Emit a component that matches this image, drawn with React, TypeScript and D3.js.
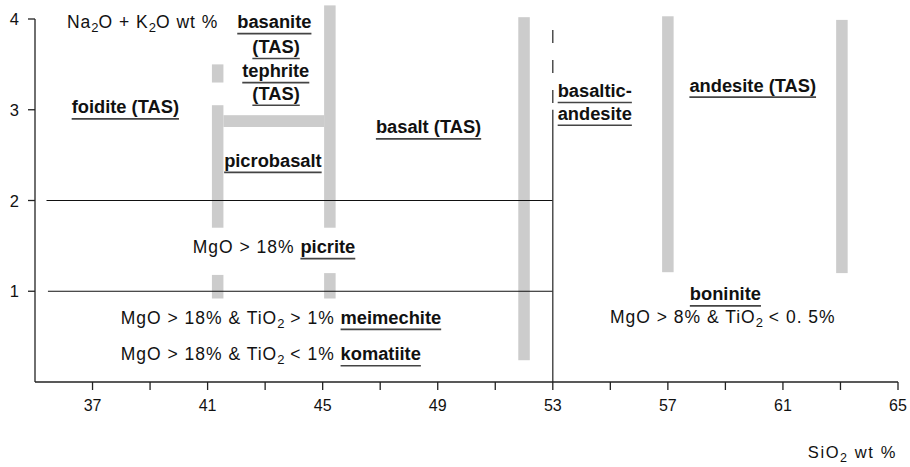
import React, { useEffect, useRef } from "react";
import * as d3 from "d3";

const W = 910;
const H = 467;

// axis domains (SiO2 wt %, Na2O + K2O wt %)
const xDomain: [number, number] = [35, 65];
const yDomain: [number, number] = [0, 4];
const xMinorTicks = [37, 39, 41, 43, 45, 47, 49, 51, 53, 55, 57, 59, 61, 63, 65];
const xTickLabels = [37, 41, 45, 49, 53, 57, 61, 65];
const yTicks = [1, 2, 3, 4];

// grey transition bands between TAS fields (SiO2 range, alkali range)
const bandSiO2From = [41.15, 41.15, 41.15, 45.05, 45.05, 41.55, 51.8, 56.8, 62.85];
const bandSiO2To = [41.55, 41.55, 41.55, 45.45, 45.45, 45.05, 52.2, 57.2, 63.25];
const bandAlkFrom = [3.3, 1.7, 0.92, 1.7, 0.92, 2.81, 0.24, 1.21, 1.2];
const bandAlkTo = [3.5, 3.05, 1.18, 4.15, 1.2, 2.94, 4.02, 4.03, 3.99];

// black boundary lines
const hLineAlk = [2, 1];
const hLineFrom = [35.4, 35.45];
const hLineTo = [53, 53];
const vLineSiO2 = 53;
const vLineSolidTop = 3.0;
const vLineDashTop = 3.88;

type Part = [string, string]; // [text, style] style: r | b | bu | sub
type Label = { x: number; y: number; anchor: string; parts: Part[] };

const labels: Label[] = [
  { x: 36.11, y: 3.9, anchor: "start", parts: [["Na", "r"], ["2", "sub"], ["O + K", "r"], ["2", "sub"], ["O wt %", "r"]] },
  { x: 43.32, y: 3.9, anchor: "middle", parts: [["basanite", "bu"]] },
  { x: 43.38, y: 3.625, anchor: "middle", parts: [["(TAS)", "bu"]] },
  { x: 43.37, y: 3.36, anchor: "middle", parts: [["tephrite", "bu"]] },
  { x: 43.38, y: 3.11, anchor: "middle", parts: [["(TAS)", "bu"]] },
  { x: 38.14, y: 2.96, anchor: "middle", parts: [["foidite (TAS)", "bu"]] },
  { x: 48.68, y: 2.74, anchor: "middle", parts: [["basalt (TAS)", "bu"]] },
  { x: 43.27, y: 2.37, anchor: "middle", parts: [["picrobasalt", "bu"]] },
  { x: 53.17, y: 3.14, anchor: "start", parts: [["basaltic-", "bu"]] },
  { x: 53.17, y: 2.89, anchor: "start", parts: [["andesite", "bu"]] },
  { x: 59.95, y: 3.2, anchor: "middle", parts: [["andesite (TAS)", "bu"]] },
  { x: 40.48, y: 1.42, anchor: "start", parts: [["MgO > 18% ", "r"], ["picrite", "bu"]] },
  { x: 37.98, y: 0.64, anchor: "start", parts: [["MgO > 18% & TiO", "r"], ["2", "sub"], [" > 1% ", "r"], ["meimechite", "bu"]] },
  { x: 37.98, y: 0.24, anchor: "start", parts: [["MgO > 18% & TiO", "r"], ["2", "sub"], [" < 1% ", "r"], ["komatiite", "bu"]] },
  { x: 59.0, y: 0.9, anchor: "middle", parts: [["boninite", "bu"]] },
  { x: 58.91, y: 0.65, anchor: "middle", parts: [["MgO > 8% & TiO", "r"], ["2", "sub"], [" < 0. 5%", "r"]] },
];

const FONT = "'Liberation Sans', Arial, Helvetica, sans-serif";

export default function App() {
  const ref = useRef<SVGSVGElement>(null);

  useEffect(() => {
    const svg = d3.select(ref.current);
    svg.selectAll("*").remove();

    const x = d3.scaleLinear().domain(xDomain).range([35, 898]);
    const y = d3.scaleLinear().domain(yDomain).range([382, 19]);

    // grey bands
    const bands = bandSiO2From.map((v, i) => ({
      x0: v, x1: bandSiO2To[i], y0: bandAlkFrom[i], y1: bandAlkTo[i],
    }));
    svg.append("g").selectAll("rect").data(bands).join("rect")
      .attr("x", d => x(d.x0))
      .attr("width", d => x(d.x1) - x(d.x0))
      .attr("y", d => y(d.y1))
      .attr("height", d => y(d.y0) - y(d.y1))
      .attr("fill", "#cccccc");

    // horizontal boundaries
    svg.append("g").selectAll("line").data(hLineAlk).join("line")
      .attr("x1", (d, i) => x(hLineFrom[i]))
      .attr("x2", (d, i) => x(hLineTo[i]))
      .attr("y1", d => y(d)).attr("y2", d => y(d))
      .attr("stroke", "#111").attr("stroke-width", 1);

    // vertical boundary at 53
    svg.append("line")
      .attr("x1", x(vLineSiO2)).attr("x2", x(vLineSiO2))
      .attr("y1", y(0)).attr("y2", y(vLineSolidTop))
      .attr("stroke", "#333").attr("stroke-width", 1.3);
    svg.append("line")
      .attr("x1", x(vLineSiO2)).attr("x2", x(vLineSiO2))
      .attr("y1", y(vLineDashTop)).attr("y2", y(vLineSolidTop))
      .attr("stroke", "#333").attr("stroke-width", 1.3)
      .attr("stroke-dasharray", "13 17");

    // axes
    const xAxis = svg.append("g");
    xAxis.append("line").attr("x1", x(35)).attr("x2", x(65)).attr("y1", y(0)).attr("y2", y(0))
      .attr("stroke", "#222").attr("stroke-width", 1.3);
    xAxis.selectAll("line.t").data(xMinorTicks).join("line").attr("class", "t")
      .attr("x1", d => x(d)).attr("x2", d => x(d))
      .attr("y1", y(0)).attr("y2", y(0) + 8)
      .attr("stroke", "#222").attr("stroke-width", 1.3);
    xAxis.selectAll("text").data(xTickLabels).join("text")
      .attr("x", d => x(d)).attr("y", 411)
      .attr("text-anchor", "middle")
      .attr("font-family", FONT).attr("font-size", 16).attr("fill", "#111")
      .text(d => d);

    const yAxis = svg.append("g");
    yAxis.append("line").attr("x1", x(35)).attr("x2", x(35)).attr("y1", y(4)).attr("y2", y(0))
      .attr("stroke", "#222").attr("stroke-width", 1.3);
    yAxis.selectAll("line.t").data(yTicks).join("line").attr("class", "t")
      .attr("x1", x(35) - 7).attr("x2", x(35))
      .attr("y1", d => y(d)).attr("y2", d => y(d))
      .attr("stroke", "#222").attr("stroke-width", 1.3);
    yAxis.selectAll("text").data(yTicks).join("text")
      .attr("x", 19).attr("y", d => y(d) + 6)
      .attr("text-anchor", "end")
      .attr("font-family", FONT).attr("font-size", 16.5).attr("fill", "#111")
      .text(d => d);

    // x axis title
    const xt = svg.append("text").attr("x", 897).attr("y", 458)
      .attr("text-anchor", "end").attr("font-family", FONT).attr("font-size", 16.5)
      .attr("letter-spacing", 1.6).attr("fill", "#111");
    xt.append("tspan").text("SiO");
    xt.append("tspan").attr("font-size", 12.5).attr("dy", 4).text("2");
    xt.append("tspan").attr("dy", -4).text(" wt %");

    // labels
    const lg = svg.append("g");
    labels.forEach(l => {
      const t = lg.append("text")
        .attr("x", x(l.x)).attr("y", y(l.y))
        .attr("text-anchor", l.anchor)
        .attr("font-family", FONT).attr("fill", "#111");
      let idx = 0;
      let shift = 0;
      const ul: [number, number][] = [];
      l.parts.forEach(([txt, st]) => {
        const ts = t.append("tspan").text(txt);
        if (st === "sub") {
          ts.attr("font-size", 13).attr("dy", 4 - shift);
          shift = 4;
        } else {
          if (shift) { ts.attr("dy", -shift); shift = 0; }
          if (st === "r") ts.attr("font-size", 17.5).attr("letter-spacing", 1.0);
          else ts.attr("font-size", 18.3).attr("font-weight", "bold");
        }
        if (st === "bu") ul.push([idx, idx + txt.length - 1]);
        idx += txt.length;
      });
      const node = t.node() as SVGTextElement;
      ul.forEach(([a, b]) => {
        const x0 = node.getStartPositionOfChar(a).x;
        const x1 = node.getEndPositionOfChar(b).x;
        lg.append("line")
          .attr("x1", x0).attr("x2", x1)
          .attr("y1", y(l.y) + 5.5).attr("y2", y(l.y) + 5.5)
          .attr("stroke", "#444").attr("stroke-width", 1.6);
      });
    });
  }, []);

  return (
    <svg
      ref={ref}
      width={W}
      height={H}
      style={{ position: "absolute", left: 0, top: 0, background: "#fff", display: "block" }}
    />
  );
}
